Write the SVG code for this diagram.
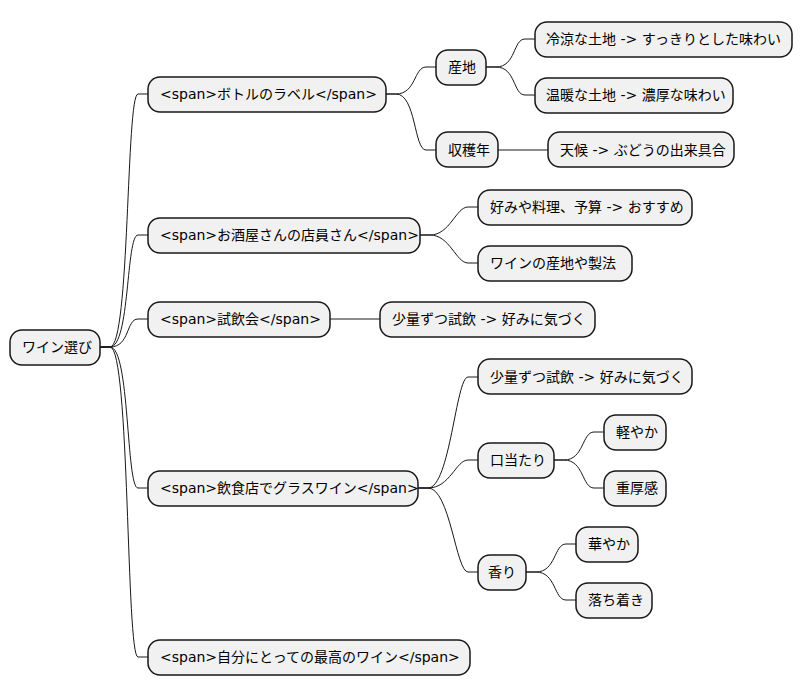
<svg xmlns="http://www.w3.org/2000/svg" width="801" height="696" viewBox="0 0 801 696">
<style>
rect{fill:#F1F1F1;stroke:#181818;stroke-width:1.5}
text{font-family:"DejaVu Sans","Noto Sans CJK JP",sans-serif;font-size:14px;fill:#000}
path{fill:none;stroke:#181818;stroke-width:1}
</style>
<rect width="801" height="696" style="fill:#fff;stroke:none"/>
<g id="connectors">
<path d="M100,347 L110,347 C130,347 126,94 138,94 L148,94"/>
<path d="M100,347 L110,347 C130,347 126,235 138,235 L148,235"/>
<path d="M100,347 L110,347 C130,347 126,319 138,319 L148,319"/>
<path d="M100,347 L110,347 C130,347 126,488 138,488 L148,488"/>
<path d="M100,347 L110,347 C130,347 126,657 138,657 L148,657"/>
<path d="M386,94 L396,94 C416,94 414,67 426,67 L436,67"/>
<path d="M386,94 L396,94 C416,94 414,150 426,150 L436,150"/>
<path d="M486,67 L496,67 C516,67 513,39 525,39 L535,39"/>
<path d="M486,67 L496,67 C516,67 513,95 525,95 L535,95"/>
<path d="M498,150 L548,150"/>
<path d="M420,235 L430,235 C450,235 456,207 468,207 L478,207"/>
<path d="M420,235 L430,235 C450,235 456,263 468,263 L478,263"/>
<path d="M330,319 L380,319"/>
<path d="M418,488 L428,488 C450,488 456,377 468,377 L478,377"/>
<path d="M418,488 L428,488 C450,488 456,460 468,460 L478,460"/>
<path d="M418,488 L428,488 C450,488 456,572 468,572 L478,572"/>
<path d="M554,460 L564,460 C584,460 582,432 594,432 L604,432"/>
<path d="M554,460 L564,460 C584,460 582,488 594,488 L604,488"/>
<path d="M526,572 L536,572 C556,572 554,544 566,544 L576,544"/>
<path d="M526,572 L536,572 C556,572 554,600 566,600 L576,600"/>
</g>
<g id="root"><rect x="10" y="330" width="90" height="35" rx="12"/><text x="22" y="352">ワイン選び</text></g>
<g id="n1"><rect x="148" y="77" width="238" height="35" rx="12"/><text x="160" y="99">&lt;span&gt;ボトルのラベル&lt;/span&gt;</text></g>
<g id="n1a"><rect x="436" y="50" width="50" height="35" rx="12"/><text x="448" y="72">産地</text></g>
<g id="n1a1"><rect x="535" y="22" width="257" height="35" rx="12"/><text x="546" y="44">冷涼な土地 -&gt; すっきりとした味わい</text></g>
<g id="n1a2"><rect x="535" y="78" width="198" height="35" rx="12"/><text x="546" y="100">温暖な土地 -&gt; 濃厚な味わい</text></g>
<g id="n1b"><rect x="436" y="132" width="62" height="35" rx="12"/><text x="448" y="155">収穫年</text></g>
<g id="n1b1"><rect x="548" y="132" width="186" height="35" rx="12"/><text x="560" y="155">天候 -&gt; ぶどうの出来具合</text></g>
<g id="n2"><rect x="148" y="218" width="272" height="35" rx="12"/><text x="160" y="240">&lt;span&gt;お酒屋さんの店員さん&lt;/span&gt;</text></g>
<g id="n2a"><rect x="478" y="190" width="214" height="35" rx="12"/><text x="490" y="212">好みや料理、予算 -&gt; おすすめ</text></g>
<g id="n2b"><rect x="478" y="246" width="154" height="35" rx="12"/><text x="490" y="268">ワインの産地や製法</text></g>
<g id="n3"><rect x="148" y="302" width="182" height="35" rx="12"/><text x="160" y="324">&lt;span&gt;試飲会&lt;/span&gt;</text></g>
<g id="n3a"><rect x="380" y="302" width="215" height="35" rx="12"/><text x="392" y="324">少量ずつ試飲 -&gt; 好みに気づく</text></g>
<g id="n4"><rect x="148" y="471" width="270" height="35" rx="12"/><text x="160" y="493">&lt;span&gt;飲食店でグラスワイン&lt;/span&gt;</text></g>
<g id="n4a"><rect x="478" y="359" width="214" height="35" rx="12"/><text x="490" y="382">少量ずつ試飲 -&gt; 好みに気づく</text></g>
<g id="n4b"><rect x="478" y="443" width="76" height="35" rx="12"/><text x="490" y="465">口当たり</text></g>
<g id="n4b1"><rect x="604" y="415" width="62" height="35" rx="12"/><text x="616" y="437">軽やか</text></g>
<g id="n4b2"><rect x="604" y="471" width="62" height="35" rx="12"/><text x="616" y="493">重厚感</text></g>
<g id="n4c"><rect x="478" y="555" width="48" height="35" rx="12"/><text x="488" y="577">香り</text></g>
<g id="n4c1"><rect x="576" y="527" width="62" height="35" rx="12"/><text x="588" y="549">華やか</text></g>
<g id="n4c2"><rect x="576" y="583" width="76" height="35" rx="12"/><text x="588" y="605">落ち着き</text></g>
<g id="n5"><rect x="148" y="640" width="322" height="35" rx="12"/><text x="160" y="662">&lt;span&gt;自分にとっての最高のワイン&lt;/span&gt;</text></g>
</svg>
